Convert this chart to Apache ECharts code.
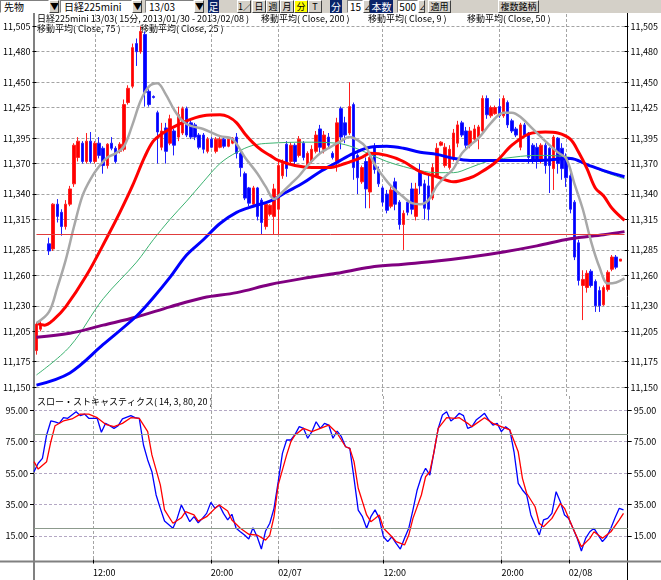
<!DOCTYPE html>
<html>
<head>
<meta charset="utf-8">
<script src="https://cdn.jsdelivr.net/npm/echarts@6/dist/echarts.min.js"></script>
<style>
html, body { margin: 0; padding: 0; background: #fff; }
.wrap { position: relative; width: 661px; height: 580px; overflow: hidden; }
.chart { position: absolute; left: 0; top: 0; width: 661px; height: 580px; }
.tool_bar { position: absolute; left: 0; top: 0; width: 661px; height: 13px; background: #d4d0c8; font-family: "Noto Sans CJK JP"; font-size: 10px; line-height: 11px; color: #000; }
.tool_bar div { position: absolute; top: 0; height: 13px; box-sizing: border-box; white-space: nowrap; overflow: hidden; }
.fld { background: #fff; border: 1px solid; border-color: #808080 #fff #fff #808080; padding-left: 3px; }
.btn { background: #d4d0c8; border: 1px solid; border-color: #fff #404040 #404040 #fff; text-align: center; font-size: 9px; }
.navy { background: #0a246a; color: #fff; text-align: center; line-height: 13px; }
.yel { background: #ffff00; }
</style>
</head>
<body>
<div class="wrap">
    <div class="chart" id="chart"></div>
    <div class="tool_bar">
        <div class="fld" style="left:0;width:49px">先物</div>
        <div class="btn" style="left:49px;width:10px">▼</div>
        <div class="fld" style="left:60px;width:72px">日経225mini</div>
        <div class="btn" style="left:132px;width:10px">▼</div>
        <div class="fld" style="left:145px;width:49px">13/03</div>
        <div class="btn" style="left:194px;width:10px">▼</div>
        <div class="navy" style="left:208px;width:11px">足</div>
        <div class="btn" style="left:237px;width:14px">1∕</div>
        <div class="btn" style="left:252px;width:14px">日</div>
        <div class="btn" style="left:266px;width:14px">週</div>
        <div class="btn" style="left:280px;width:14px">月</div>
        <div class="btn yel" style="left:294px;width:14px">分</div>
        <div class="btn" style="left:308px;width:14px">T</div>
        <div class="navy" style="left:330px;width:12px">分</div>
        <div class="fld" style="left:347px;width:16px;text-align:right;padding:0 1px 0 0">15</div>
        <div class="btn" style="left:363px;width:7px">∠</div>
        <div class="navy" style="left:370px;width:23px">本数</div>
        <div class="fld" style="left:397px;width:21px;text-align:right;padding:0 1px 0 0">500</div>
        <div class="btn" style="left:418px;width:7px">∠</div>
        <div class="btn" style="left:428px;width:23px">適用</div>
        <div class="btn" style="left:498px;width:41px">複数銘柄</div>
    </div>
</div>
<script>
// 15分足 sessions: [date, first bar, bar count]
const sessions = [
    ['02/06', '02:45', 2], ['02/06', '09:00', 26], ['02/06', '16:30', 30],
    ['02/07', '00:00', 13], ['02/07', '09:00', 26], ['02/07', '16:30', 30],
    ['02/08', '00:00', 14]
]
const categories = []
sessions.forEach(([d, t, n]) => {
    let m = +t.slice(0, 2) * 60 + +t.slice(3)
    for (let k = 0; k < n; k++, m += 15) {
        categories.push(d + ' ' + String(Math.floor(m / 60)).padStart(2, '0') + ':' + String(m % 60).padStart(2, '0'))
    }
})
categories.push('')
const xTickTimes = ['12:00', '20:00', '00:00']

// [open, close, low, high]
const candles = [
    [11186,11212,11182,11214],[11207,11212,11205,11216],['-','-','-','-'],[11291,11284,11280,11297],
    [11286,11330,11284,11331],[11330,11318,11312,11335],[11322,11308,11299,11325],[11308,11330,11305,11334],
    [11330,11345,11328,11348],[11350,11388,11347,11390],[11376,11392,11372,11396],[11390,11372,11370,11392],
    [11372,11392,11370,11400],[11392,11372,11370,11401],[11372,11390,11370,11392],[11390,11378,11375,11396],
    [11385,11368,11360,11387],[11368,11389,11365,11390],[11390,11385,11383,11396],[11385,11372,11370,11387],
    [11382,11389,11380,11391],[11384,11428,11382,11433],[11430,11444,11428,11447],[11446,11484,11444,11488],
    [11488,11480,11466,11493],[11480,11500,11478,11505],[11497,11440,11426,11500],[11441,11428,11426,11443],
    [11436,11435,11434,11437],[11420,11401,11370,11422],[11386,11402,11383,11410],[11405,11382,11370,11410],
    [11390,11414,11388,11418],[11402,11388,11378,11404],[11396,11418,11392,11426],[11400,11424,11398,11426],
    [11424,11398,11396,11426],[11410,11396,11394,11412],[11408,11396,11393,11410],[11398,11386,11384,11400],
    [11398,11384,11380,11400],[11382,11394,11380,11396],[11394,11386,11385,11396],[11382,11394,11380,11396],
    [11386,11394,11385,11396],[11394,11387,11385,11396],[11387,11394,11386,11396],[11390,11395,11389,11396],
    [11396,11380,11375,11400],[11380,11366,11357,11382],[11360,11336,11334,11362],[11346,11331,11328,11347],
    [11330,11346,11328,11348],[11346,11318,11314,11347],[11334,11312,11300,11336],[11308,11330,11305,11332],
    [11320,11329,11318,11330],[11318,11345,11300,11350],[11325,11368,11300,11372],[11358,11370,11355,11374],
    [11389,11365,11357,11392],[11372,11388,11370,11391],[11388,11372,11367,11390],[11378,11394,11376,11397],
    [11390,11376,11373,11392],[11368,11380,11366,11382],[11372,11384,11370,11388],[11382,11398,11380,11402],
    [11404,11386,11380,11408],[11384,11398,11380,11402],[11396,11388,11386,11400],[11380,11376,11374,11382],
    [11372,11410,11362,11415],[11424,11396,11384,11426],[11410,11398,11390,11416],[11400,11426,11398,11450],
    [11428,11366,11354,11430],[11378,11356,11340,11380],[11352,11366,11350,11368],[11372,11345,11326,11376],
    [11342,11376,11326,11380],[11386,11364,11360,11390],[11364,11350,11347,11367],[11346,11332,11328,11348],
    [11340,11324,11321,11344],[11328,11344,11326,11347],[11352,11330,11324,11356],[11332,11310,11305,11334],
    [11310,11321,11285,11324],[11332,11322,11319,11334],[11345,11325,11320,11351],[11318,11345,11314,11351],
    [11362,11348,11340,11370],[11350,11326,11315,11354],[11348,11325,11314,11360],[11336,11366,11334,11370],
    [11358,11385,11356,11390],[11388,11391,11387,11392],[11368,11386,11366,11390],[11366,11384,11364,11388],
    [11375,11400,11372,11404],[11390,11408,11386,11412],[11410,11398,11396,11412],[11402,11388,11384,11406],
    [11388,11402,11385,11406],[11394,11404,11392,11408],[11396,11406,11384,11408],[11402,11434,11400,11437],
    [11434,11418,11414,11437],[11417,11425,11415,11427],[11419,11425,11418,11427],[11426,11417,11415,11434],
    [11417,11434,11415,11437],[11430,11408,11405,11432],[11412,11402,11400,11414],[11404,11398,11396,11406],
    [11386,11408,11383,11410],[11408,11398,11396,11410],[11400,11376,11370,11401],[11388,11374,11370,11390],
    [11386,11372,11365,11390],[11372,11388,11370,11390],[11388,11368,11360,11390],[11385,11368,11341,11386],
    [11365,11396,11344,11398],[11395,11370,11360,11396],[11385,11365,11354,11390],[11375,11356,11347,11380],
    [11358,11325,11321,11362],[11332,11278,11275,11334],[11292,11255,11250,11295],[11250,11256,11216,11265],
    [11248,11262,11243,11265],[11264,11250,11248,11266],[11254,11230,11224,11256],[11245,11230,11224,11249],
    [11231,11248,11230,11250],[11246,11263,11244,11265],[11266,11278,11264,11280],[11278,11268,11266,11280],
    [11274,11276,11274,11276]
]

// moving averages: [bar index, value]
const ma9 = [[0,11213],[3,11224],[5,11248],[7,11275],[9,11308],[11,11338],[13,11355],[15,11367],[17,11376],[19,11380],
    [21,11387],[23,11408],[25,11432],[27,11446],[29,11449],[31,11438],[33,11423],[35,11412],[37,11407],[40,11404],
    [44,11397],[47,11394],[50,11376],[53,11360],[55,11347],[57,11335],[59,11342],[61,11350],[63,11358],[65,11368],
    [68,11380],[70,11385],[73,11392],[75,11396],[77,11393],[79,11386],[81,11370],[83,11358],[85,11348],[88,11337],
    [90,11331],[92,11330],[94,11334],[96,11348],[98,11357],[100,11365],[102,11380],[104,11388],[106,11395],[109,11410],
    [112,11420],[114,11420],[116,11416],[119,11404],[122,11392],[125,11381],[127,11375],[129,11350],[131,11325],[133,11293],
    [135,11268],[137,11252],[139,11253],[141,11257]]
const ma25 = [[0,11213],[2,11211],[4,11216],[7,11229],[12,11260],[17,11298],[20,11322],[23,11348],[26,11377],[28,11392],
    [30,11399],[32,11404],[36,11412],[40,11417],[44,11418],[46,11416],[48,11410],[50,11399],[52,11390],[54,11383],
    [56,11378],[58,11373],[62,11368],[66,11366],[70,11366],[74,11370],[78,11376],[80,11380],[84,11378],[88,11372],
    [92,11362],[96,11357],[100,11352],[104,11356],[106,11360],[110,11371],[114,11388],[118,11399],[122,11401],[125,11400],
    [128,11394],[130,11381],[132,11365],[134,11346],[136,11338],[138,11326],[141,11314]]
const ma50 = [[0,11162],[8,11190],[16,11237],[24,11273],[28,11295],[32,11315],[36,11333],[40,11352],[44,11370],[48,11381],
    [52,11388],[56,11390],[64,11391],[72,11390],[76,11386],[80,11379],[84,11372],[88,11367],[92,11363],[96,11361],
    [100,11361],[104,11366],[108,11372],[112,11375],[120,11378],[128,11376],[132,11369],[136,11362],[141,11355]]
const ma75 = [[0,11152],[8,11164],[16,11192],[24,11220],[28,11238],[32,11258],[36,11280],[40,11295],[44,11311],[48,11322],
    [52,11328],[56,11333],[60,11342],[64,11351],[68,11362],[72,11371],[76,11380],[80,11386],[84,11387],[88,11385],
    [92,11381],[96,11379],[100,11375],[104,11373],[112,11373],[120,11373],[128,11375],[132,11369],[136,11363],[141,11357]]
const ma200 = [[0,11199],[8,11203],[16,11211],[24,11219],[32,11229],[40,11238],[48,11243],[56,11251],[64,11257],[72,11262],
    [80,11268],[88,11271],[96,11274],[104,11278],[112,11283],[120,11289],[128,11296],[136,11300],[141,11303]]

// slow stochastics (14, 3)
const stochK = [[0,55.9],[1,61.3],[2,64.4],[3,79.3],[4,88.2],[5,87.7],[6,86.7],[7,90.3],[8,89.9],[10,94.1],[11,91.6],[12,92.6],
    [13,89.9],[15,89.9],[16,81],[17,86.7],[18,85.2],[19,83.5],[20,85.2],[21,89.5],[23,91.6],[24,90.3],[25,89.9],[26,72.9],
    [27,63.4],[28,55.9],[29,41.1],[30,32.6],[31,24.5],[33,19.9],[34,26.2],[35,34.7],[36,29.4],[37,24.1],[38,27.3],[39,23.4],
    [40,26.2],[41,29.4],[42,36.4],[43,32.6],[44,34.7],[45,29.4],[46,25.2],[47,28.8],[48,19.9],[49,17.7],[50,15.6],[51,13.1],
    [52,20.3],[53,14.5],[54,6.7],[55,18.2],[56,23.1],[57,32.6],[58,49.6],[59,67.6],[60,76.1],[61,76.1],[62,79.7],[63,84.6],
    [64,83.5],[65,77.2],[66,81.4],[67,87.7],[68,83.5],[69,86.7],[70,85.6],[71,77.2],[72,81.8],[73,78.2],[74,71.8],[75,70.8],
    [76,51.7],[77,31.5],[78,27.3],[79,19.9],[80,27.3],[81,31.6],[82,26.2],[83,14.5],[84,11.4],[85,14.5],[86,10.3],[87,6.7],
    [88,13.5],[89,19.9],[90,31.6],[91,44.3],[92,52.7],[93,58.1],[94,53.8],[95,68.6],[96,83.5],[97,92],[98,94.1],[99,88.2],
    [100,90.3],[101,93.1],[102,91.6],[103,83.5],[104,84.6],[105,88.8],[106,90.9],[107,93.1],[108,88.8],[109,85.6],[110,86.7],
    [111,81.4],[112,84.6],[113,82.5],[114,68.6],[115,48.5],[116,44.3],[117,41.1],[118,28.4],[119,22],[120,15.6],[121,25.2],
    [122,26.2],[123,29.4],[124,43.2],[125,36.8],[126,28.4],[127,26.2],[128,19.9],[129,13.5],[130,5.4],[131,13.5],[132,17.7],
    [133,19.9],[134,15.6],[135,11.4],[136,14.5],[137,19.9],[138,26.6],[139,32.6],[140,31.6]]
const stochD = [[0,62.3],[1,57.6],[3,62.3],[4,75],[5,85.2],[7,88.2],[9,89.5],[11,92.6],[13,92.6],[15,90.3],[17,86.1],[19,84.6],
    [21,86.7],[23,90.3],[25,89.9],[27,81.4],[28,66.6],[30,47.5],[31,31.6],[33,23.1],[35,26.6],[36,30.5],[38,28.4],[39,24.5],
    [41,27.3],[43,32.6],[44,34.7],[46,30.9],[47,25.2],[49,19.9],[51,16.1],[53,15.6],[55,12.4],[56,15.6],[57,27.3],[58,47.5],
    [60,66.6],[61,75],[62,79.3],[64,83.5],[66,81.4],[68,83.5],[70,85.6],[72,80.4],[74,71.8],[75,70.8],[76,62.3],[77,45.4],
    [79,28.4],[80,24.1],[81,26.2],[82,28.4],[83,19.9],[85,14.5],[86,11.4],[88,9.3],[89,15.6],[90,26.2],[92,41.1],[93,52.7],
    [94,55.9],[95,68.6],[96,83.5],[98,90.3],[100,89.9],[101,90.3],[103,86.7],[104,84.6],[107,90.3],[109,86.7],[111,84.6],
    [113,82.5],[115,68.6],[116,51.7],[117,42.2],[119,33.6],[120,23.1],[121,20.9],[123,26.2],[125,35.8],[126,32.6],[128,19.9],
    [130,8.2],[132,13.5],[133,17.7],[135,13.5],[137,17.7],[139,25.2],[140,29.4]]

const priceTicks = [11150, 11175, 11205, 11230, 11260, 11285, 11315, 11340, 11370, 11395, 11425, 11450, 11480, 11505]
const stochTicks = [15, 35, 55, 75, 95]
const refPrice = 11300
const stochBands = [80, 20]

const FONT = '"Noto Sans CJK JP", "Noto Sans", sans-serif'
const dash = { color: '#a4a4a4', type: [3, 2], width: 1 }

function isXTick(i, v){
    return !!v && xTickTimes.indexOf(v.split(' ')[1]) > -1
}
function xLabel(v){
    if(!v) return ''
    let [d, t] = v.split(' ')
    return t === '00:00' ? d : t
}
function priceLabel(v){
    return String(Math.round(v)).replace(/\B(?=(\d{3})+(?!\d))/g, ',')
}

function yAxis(grid, pos, min, max, ticks, fmt, split, splitColor){
    return {
        type: 'value', gridIndex: grid, position: pos, min: min, max: max,
        axisLine: { show: false },
        axisTick: { show: true, length: 4, customValues: ticks, lineStyle: { color: '#000' } },
        axisLabel: { customValues: ticks, formatter: fmt, margin: 6, fontSize: 9, color: '#000', fontFamily: FONT },
        splitLine: { show: split, lineStyle: Object.assign({}, dash, { color: splitColor }) }
    }
}
function xAxis(grid, labels){
    return {
        type: 'category', gridIndex: grid, data: categories, boundaryGap: false,
        axisLine: { show: false },
        axisTick: { show: labels, length: 4, interval: isXTick, lineStyle: { color: '#000' } },
        axisLabel: { show: labels, interval: isXTick, formatter: xLabel, align: 'left', margin: 6, fontSize: 9, color: '#000', fontFamily: FONT },
        splitLine: { show: true, interval: isXTick, lineStyle: dash }
    }
}
function maLine(data, color, width){
    return {
        type: 'line', xAxisIndex: 0, yAxisIndex: 0, data: data, symbol: 'none', smooth: 0.35,
        lineStyle: { color: color, width: width }, silent: true
    }
}
function headText(x, y, text){
    return { type: 'text', x: x, y: y, silent: true, style: { text: text, fill: '#000', font: '9px ' + FONT, textVerticalAlign: 'middle' } }
}

const myChart = echarts.init(document.getElementById('chart'))
const option = {
    animation: false,
    backgroundColor: '#fff',
    grid: [
        { left: 34, right: 33.3, top: 14, height: 382 },
        { left: 34, right: 33.3, top: 396, height: 165.7 }
    ],
    xAxis: [xAxis(0, false), xAxis(1, true)],
    yAxis: [
        yAxis(0, 'left', 11141.3, 11517.1, priceTicks, priceLabel, true, '#a4a4a4'),
        yAxis(0, 'right', 11141.3, 11517.1, priceTicks, priceLabel, false),
        yAxis(1, 'left', -1.36, 104.1, stochTicks, v => v.toFixed(2), true, '#b4a8c4'),
        yAxis(1, 'right', -1.36, 104.1, stochTicks, v => v.toFixed(2), false)
    ],
    series: [
        {
            type: 'candlestick', xAxisIndex: 0, yAxisIndex: 0, data: candles, barWidth: 3,
            itemStyle: { color: '#ff0000', color0: '#0000ff', borderColor: '#ff2020', borderColor0: '#2020ff', borderWidth: 1 },
            markLine: {
                silent: true, symbol: 'none', label: { show: false },
                lineStyle: { color: '#e03c3c', width: 1, type: 'solid' },
                data: [{ yAxis: refPrice }]
            }
        },
        maLine(ma50, '#3cb371', 1),
        maLine(ma200, '#800080', 3),
        maLine(ma75, '#0000ff', 3),
        maLine(ma25, '#ff0000', 3),
        maLine(ma9, '#a8a8a8', 2.5),
        {
            type: 'line', xAxisIndex: 1, yAxisIndex: 2, data: stochK, symbol: 'none',
            lineStyle: { color: '#0000ff', width: 1.3 }, silent: true
        },
        {
            type: 'line', xAxisIndex: 1, yAxisIndex: 2, data: stochD, symbol: 'none',
            lineStyle: { color: '#ff0000', width: 1.3 }, silent: true,
            markLine: {
                silent: true, symbol: 'none', label: { show: false },
                lineStyle: { color: '#8c9a8c', width: 1, type: 'solid' },
                data: stochBands.map(v => ({ yAxis: v }))
            }
        }
    ],
    graphic: [
        // frame lines
        { type: 'line', silent: true, shape: { x1: 34, y1: 13, x2: 34, y2: 580 }, style: { stroke: '#808080', lineWidth: 2 } },
        { type: 'line', silent: true, shape: { x1: 627.5, y1: 13, x2: 627.5, y2: 580 }, style: { stroke: '#000', lineWidth: 1 } },
        { type: 'line', silent: true, shape: { x1: 0, y1: 561.5, x2: 661, y2: 561.5 }, style: { stroke: '#808080', lineWidth: 2 } },
        headText(37, 19, '日経225mini 13/03( 15分, 2013/01/30 - 2013/02/08 )'),
        headText(261, 19, '移動平均( Close, 200 )'),
        headText(368, 19, '移動平均( Close, 9 )'),
        headText(467, 19, '移動平均( Close, 50 )'),
        headText(37, 29, '移動平均( Close, 75 )'),
        headText(140, 29, '移動平均( Close, 25 )'),
        headText(37, 402, 'スロー・ストキャスティクス( 14, 3, 80, 20 )')
    ]
}
myChart.setOption(option)
</script>
</body>
</html>
